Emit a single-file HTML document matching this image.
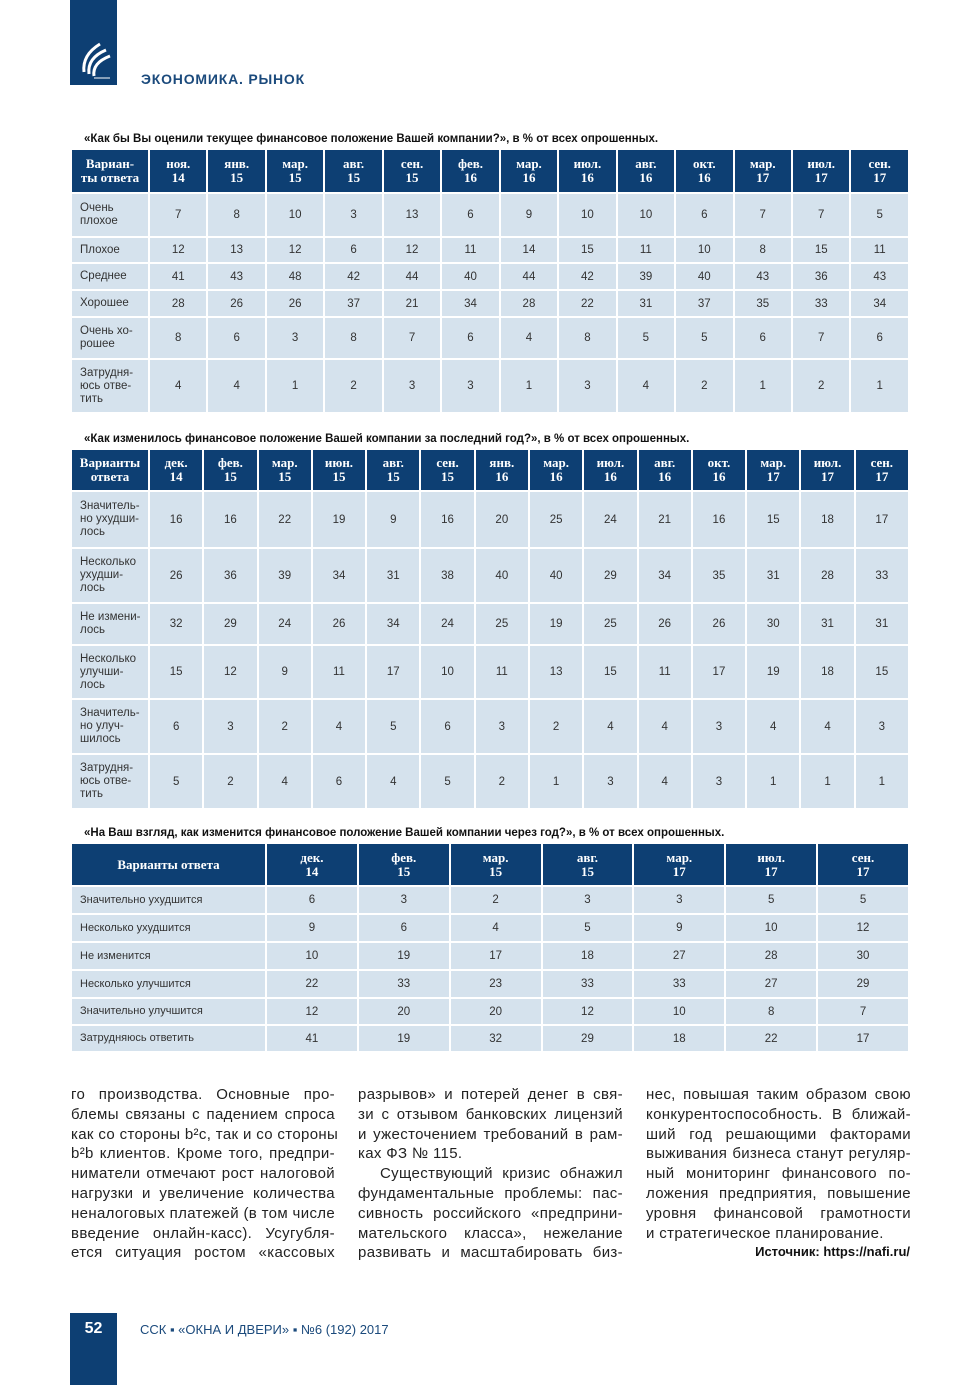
<!DOCTYPE html>
<html><head><meta charset="utf-8">
<style>
body{margin:0;background:#fff;}
#page{position:relative;width:980px;height:1385px;overflow:hidden;background:#fff;font-family:"Liberation Sans",sans-serif;}
.blue{background:#0d3f73;}
.tbl{position:absolute;border-collapse:separate;border-spacing:2px;table-layout:fixed;}
.tbl td{background:#d5e2ed;color:#333;font-size:11.5px;text-align:center;padding:0;}
.tbl td.lab{text-align:left;padding-left:8px;line-height:13px;}
.tbl th{background:#0d3f73;color:#fff;font-family:"Liberation Serif",serif;font-weight:bold;font-size:13px;line-height:14px;padding:0;}
.title{position:absolute;font-family:"Liberation Sans Narrow","Liberation Sans",sans-serif;font-weight:bold;font-size:11.5px;color:#111;white-space:nowrap;}
.col{position:absolute;top:1085px;font-size:15px;color:#222;letter-spacing:0.35px;}
.col div{height:19.8px;line-height:19.8px;text-align:justify;text-align-last:justify;white-space:nowrap;}
.col div.last{text-align-last:left;}
</style></head><body>
<div id="page">
<div class="blue" style="position:absolute;left:70px;top:0;width:47px;height:85px;">
 <svg width="47" height="85" viewBox="0 0 47 85">
  <path d="M14 72 Q12 55 30 44" stroke="#fff" stroke-width="3" fill="none"/>
  <path d="M19 74 Q17 58 36 50" stroke="#fff" stroke-width="3" fill="none"/>
  <path d="M24 76 Q22 63 40 56" stroke="#fff" stroke-width="3" fill="none"/>
  <line x1="24" y1="78" x2="40" y2="78" stroke="#fff" stroke-width="1"/>
 </svg>
</div>
<div style="position:absolute;left:141px;top:71px;font-size:14px;font-weight:bold;color:#1b4a7c;letter-spacing:0.8px;">ЭКОНОМИКА. РЫНОК</div>

<div class="title" style="left:84px;top:133px;">«Как бы Вы оценили текущее финансовое положение Вашей компании?», в % от всех опрошенных.</div>
<table class="tbl" id="t1" style="left:70px;top:148px;width:840px;"></table>

<div class="title" style="left:84px;top:433px;">«Как изменилось финансовое положение Вашей компании за последний год?», в % от всех опрошенных.</div>
<table class="tbl" id="t2" style="left:70px;top:448px;width:840px;"></table>

<div class="title" style="left:84px;top:827px;">«На Ваш взгляд, как изменится финансовое положение Вашей компании через год?», в % от всех опрошенных.</div>
<table class="tbl" id="t3" style="left:70px;top:842px;width:840px;"></table>

<div class="col" style="left:71px;width:264px;">
<div>го производства. Основные про-</div>
<div>блемы связаны с падением спроса</div>
<div>как со стороны b²c, так и со стороны</div>
<div>b²b клиентов. Кроме того, предпри-</div>
<div>ниматели отмечают рост налоговой</div>
<div>нагрузки и увеличение количества</div>
<div>неналоговых платежей (в том числе</div>
<div>введение онлайн-касс). Усугубля-</div>
<div>ется ситуация ростом «кассовых</div>
</div>
<div class="col" style="left:358px;width:265px;">
<div>разрывов» и потерей денег в свя-</div>
<div>зи с отзывом банковских лицензий</div>
<div>и ужесточением требований в рам-</div>
<div class="last">ках ФЗ № 115.</div>
<div style="padding-left:22px;">Существующий кризис обнажил</div>
<div>фундаментальные проблемы: пас-</div>
<div>сивность российского «предприни-</div>
<div>мательского класса», нежелание</div>
<div>развивать и масштабировать биз-</div>
</div>
<div class="col" style="left:646px;width:265px;">
<div>нес, повышая таким образом свою</div>
<div>конкурентоспособность. В ближай-</div>
<div>ший год решающими факторами</div>
<div>выживания бизнеса станут регуляр-</div>
<div>ный мониторинг финансового по-</div>
<div>ложения предприятия, повышение</div>
<div>уровня финансовой грамотности</div>
<div class="last">и стратегическое планирование.</div>
</div>
<div style="position:absolute;right:70px;top:1244px;font-family:'Liberation Sans Narrow','Liberation Sans',sans-serif;font-weight:bold;font-size:13px;color:#111;">Источник: https://nafi.ru/</div>

<div class="blue" style="position:absolute;left:70px;top:1313px;width:47px;height:72px;">
 <div style="color:#fff;font-weight:bold;font-size:16px;text-align:center;margin-top:7px;font-family:'Liberation Sans Narrow','Liberation Sans',sans-serif;">52</div>
</div>
<div style="position:absolute;left:140px;top:1322px;font-size:13px;color:#1b4a7c;">ССК ▪ «ОКНА И ДВЕРИ» ▪ №6 (192) 2017</div>
</div>

<script>
const t1Head = ["Вариан-<br>ты ответа","ноя.<br>14","янв.<br>15","мар.<br>15","авг.<br>15","сен.<br>15","фев.<br>16","мар.<br>16","июл.<br>16","авг.<br>16","окт.<br>16","мар.<br>17","июл.<br>17","сен.<br>17"];
const t1Labels = ["Очень<br>плохое","Плохое","Среднее","Хорошее","Очень хо-<br>рошее","Затрудня-<br>юсь отве-<br>тить"];
const t1Values = [
 [7,8,10,3,13,6,9,10,10,6,7,7,5],
 [12,13,12,6,12,11,14,15,11,10,8,15,11],
 [41,43,48,42,44,40,44,42,39,40,43,36,43],
 [28,26,26,37,21,34,28,22,31,37,35,33,34],
 [8,6,3,8,7,6,4,8,5,5,6,7,6],
 [4,4,1,2,3,3,1,3,4,2,1,2,1]];
const t2Head = ["Варианты<br>ответа","дек.<br>14","фев.<br>15","мар.<br>15","июн.<br>15","авг.<br>15","сен.<br>15","янв.<br>16","мар.<br>16","июл.<br>16","авг.<br>16","окт.<br>16","мар.<br>17","июл.<br>17","сен.<br>17"];
const t2Labels = ["Значитель-<br>но ухудши-<br>лось","Несколько<br>ухудши-<br>лось","Не измени-<br>лось","Несколько<br>улучши-<br>лось","Значитель-<br>но улуч-<br>шилось","Затрудня-<br>юсь отве-<br>тить"];
const t2Values = [
 [16,16,22,19,9,16,20,25,24,21,16,15,18,17],
 [26,36,39,34,31,38,40,40,29,34,35,31,28,33],
 [32,29,24,26,34,24,25,19,25,26,26,30,31,31],
 [15,12,9,11,17,10,11,13,15,11,17,19,18,15],
 [6,3,2,4,5,6,3,2,4,4,3,4,4,3],
 [5,2,4,6,4,5,2,1,3,4,3,1,1,1]];
const t3Head = ["Варианты ответа","дек.<br>14","фев.<br>15","мар.<br>15","авг.<br>15","мар.<br>17","июл.<br>17","сен.<br>17"];
const t3Labels = ["Значительно ухудшится","Несколько ухудшится","Не изменится","Несколько улучшится","Значительно улучшится","Затрудняюсь ответить"];
const t3Values = [
 [6,3,2,3,3,5,5],
 [9,6,4,5,9,10,12],
 [10,19,17,18,27,28,30],
 [22,33,23,33,33,27,29],
 [12,20,20,12,10,8,7],
 [41,19,32,29,18,22,17]];

function build(id, head, labels, values, firstW, headH, rowH, smallLab){
  const t = document.getElementById(id);
  const cg = document.createElement('colgroup');
  const c0 = document.createElement('col'); c0.style.width = firstW+'px'; cg.appendChild(c0);
  for(let i=1;i<head.length;i++){ cg.appendChild(document.createElement('col')); }
  t.appendChild(cg);
  const hr = document.createElement('tr');
  
  
  hr.style.height = headH+'px';
  head.forEach((h,i)=>{
    const th = document.createElement('th');
    
    
    th.innerHTML = h;
    hr.appendChild(th);
  });
  t.appendChild(hr);
  labels.forEach((l,r)=>{
    const tr = document.createElement('tr');
    
    
    tr.style.height = rowH[r]+'px';
    const td = document.createElement('td');
    
    
    td.className = 'lab';
    if(smallLab) td.style.fontSize = '11px';
    td.innerHTML = l;
    tr.appendChild(td);
    values[r].forEach(v=>{
      const c = document.createElement('td');
      
      
      c.textContent = v;
      tr.appendChild(c);
    });
    t.appendChild(tr);
  });
}
build('t1', t1Head, t1Labels, t1Values, 76, 42, [42,24,25,25,40,52], false);
build('t2', t2Head, t2Labels, t2Values, 76, 40, [55,53,40,52,53,53], false);
build('t3', t3Head, t3Labels, t3Values, 193, 41, [26,26,26,26,25,25], true);
</script>
</body></html>
